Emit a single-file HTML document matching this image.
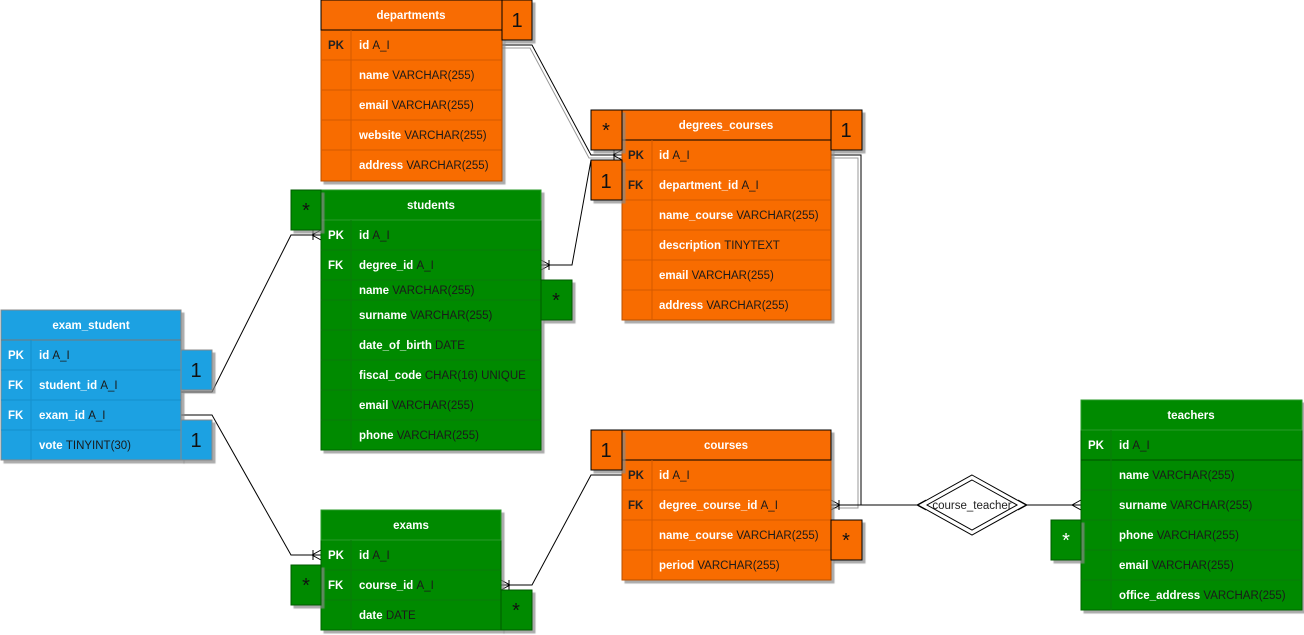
<!DOCTYPE html>
<html><head><meta charset="utf-8"><style>
html,body{margin:0;padding:0;background:#fff;width:1304px;height:635px;overflow:hidden}
svg{display:block}
text{font-family:"Liberation Sans",Arial,sans-serif;font-size:11.5px}
.h{font-weight:bold;fill:#fff;text-anchor:middle}
.k{font-weight:bold}
.f{font-weight:bold;fill:#fff}
.t{font-weight:normal;fill:#1a1a1a}
.c{font-size:20px;text-anchor:middle;fill:#111}
.cw{font-size:20px;text-anchor:middle;fill:#fff}
.ln{stroke:#000;stroke-width:1;fill:none}
</style></head><body>
<svg width="1304" height="635" viewBox="0 0 1304 635" xmlns="http://www.w3.org/2000/svg">
<defs>
<filter id="sh" x="-10%" y="-10%" width="130%" height="130%"><feDropShadow dx="3" dy="3" stdDeviation="0.5" flood-color="#888" flood-opacity="0.7"/></filter>
</defs>

<g class="ln">
<path d="M502 45 H532 L591 155 H622"/>
<path d="M502 48 H530 L589 158 H622" stroke="#999"/>
<path d="M541 265 H572 L591 160 H622"/>
<path d="M181 392 H212 L291 235 H321"/>
<path d="M181 415 H212 L291 555 H321"/>
<path d="M501 585 H532 L591 475 H622"/>
<path d="M831 155 H861 V505 H831"/>
<path d="M831 158 H858 V508 H831" stroke="#999"/>
<path d="M831 505 H918"/>
<path d="M1026 505 H1081"/>
<path d="M622 150 L613 155 L622 160 M614 150 V160"/>
<path d="M541 260 L550 265 L541 270 M549 260 V270"/>
<path d="M321 230 L312 235 L321 240 M313 230 V240"/>
<path d="M321 550 L312 555 L321 560 M313 550 V560"/>
<path d="M501 580 L510 585 L501 590 M509 580 V590"/>
<path d="M831 500 L840 505 L831 510 M839 500 V510"/>
<path d="M1081 500 L1072 505 L1081 510"/>
<path d="M926 500 L917 505 L926 510"/>
<path d="M1018 500 L1027 505 L1018 510"/>
</g>
<polygon points="972,475 1026,505 972,535 918,505" fill="#fff" stroke="#000"/>
<polygon points="972,480 1017,505 972,530 927,505" fill="none" stroke="#000"/>
<text x="972" y="509" text-anchor="middle" fill="#222">course_teacher</text>

<!-- departments -->
<g filter="url(#sh)"><rect x="321" y="0" width="181" height="181" fill="#f86c03" stroke="#b84f00"/></g>
<rect x="321" y="0" width="181" height="30" fill="#f86c03" stroke="#000"/>
<g stroke="#d45a00"><line x1="321" y1="60" x2="502" y2="60"/><line x1="321" y1="90" x2="502" y2="90"/><line x1="321" y1="120" x2="502" y2="120"/><line x1="321" y1="150" x2="502" y2="150"/><line x1="351" y1="30" x2="351" y2="181"/></g>
<text class="h" x="411" y="19">departments</text>
<text class="k" x="328" y="49" fill="#222">PK</text>
<text class="f" x="359" y="49">id <tspan class="t">A_I</tspan></text>
<text class="f" x="359" y="79">name <tspan class="t">VARCHAR(255)</tspan></text>
<text class="f" x="359" y="109">email <tspan class="t">VARCHAR(255)</tspan></text>
<text class="f" x="359" y="139">website <tspan class="t">VARCHAR(255)</tspan></text>
<text class="f" x="359" y="169">address <tspan class="t">VARCHAR(255)</tspan></text>
<g filter="url(#sh)"><rect x="502" y="0" width="30" height="40" fill="#f86c03" stroke="#000"/></g>
<text class="c" x="517" y="27">1</text>

<!-- degrees_courses -->
<g filter="url(#sh)"><rect x="622" y="110" width="209" height="210" fill="#f86c03" stroke="#b84f00"/></g>
<rect x="622" y="110" width="209" height="30" fill="#f86c03" stroke="#000"/>
<g stroke="#d45a00"><line x1="622" y1="170" x2="831" y2="170"/><line x1="622" y1="200" x2="831" y2="200"/><line x1="622" y1="230" x2="831" y2="230"/><line x1="622" y1="260" x2="831" y2="260"/><line x1="622" y1="290" x2="831" y2="290"/><line x1="652" y1="140" x2="652" y2="320"/></g>
<text class="h" x="726" y="129">degrees_courses</text>
<text class="k" x="628" y="159" fill="#222">PK</text>
<text class="k" x="628" y="189" fill="#222">FK</text>
<text class="f" x="659" y="159">id <tspan class="t">A_I</tspan></text>
<text class="f" x="659" y="189">department_id <tspan class="t">A_I</tspan></text>
<text class="f" x="659" y="219">name_course <tspan class="t">VARCHAR(255)</tspan></text>
<text class="f" x="659" y="249">description <tspan class="t">TINYTEXT</tspan></text>
<text class="f" x="659" y="279">email <tspan class="t">VARCHAR(255)</tspan></text>
<text class="f" x="659" y="309">address <tspan class="t">VARCHAR(255)</tspan></text>
<g filter="url(#sh)"><rect x="591" y="110" width="31" height="40" fill="#f86c03" stroke="#000"/>
<rect x="831" y="110" width="31" height="40" fill="#f86c03" stroke="#000"/>
<rect x="591" y="160" width="31" height="40" fill="#f86c03" stroke="#000"/></g>
<text class="c" x="606" y="137">*</text>
<text class="c" x="846" y="137">1</text>
<text class="c" x="606" y="188">1</text>

<!-- students -->
<g filter="url(#sh)"><rect x="321" y="190" width="220" height="260" fill="#008a00" stroke="#006600"/></g>
<rect x="321" y="190" width="220" height="30" fill="#008a00" stroke="#2a9a2a"/>
<g stroke="#0a7a0a"><line x1="321" y1="250" x2="541" y2="250"/><line x1="321" y1="280" x2="541" y2="280"/><line x1="321" y1="300" x2="541" y2="300"/><line x1="321" y1="330" x2="541" y2="330"/><line x1="321" y1="360" x2="541" y2="360"/><line x1="321" y1="390" x2="541" y2="390"/><line x1="321" y1="420" x2="541" y2="420"/><line x1="351" y1="220" x2="351" y2="450"/></g>
<text class="h" x="431" y="209">students</text>
<text class="k" x="328" y="239" fill="#fff">PK</text>
<text class="k" x="328" y="269" fill="#fff">FK</text>
<text class="f" x="359" y="239">id <tspan class="t">A_I</tspan></text>
<text class="f" x="359" y="269">degree_id <tspan class="t">A_I</tspan></text>
<text class="f" x="359" y="294">name <tspan class="t">VARCHAR(255)</tspan></text>
<text class="f" x="359" y="319">surname <tspan class="t">VARCHAR(255)</tspan></text>
<text class="f" x="359" y="349">date_of_birth <tspan class="t">DATE</tspan></text>
<text class="f" x="359" y="379">fiscal_code  <tspan class="t">CHAR(16) UNIQUE</tspan></text>
<text class="f" x="359" y="409">email <tspan class="t">VARCHAR(255)</tspan></text>
<text class="f" x="359" y="439">phone <tspan class="t">VARCHAR(255)</tspan></text>
<g filter="url(#sh)"><rect x="291" y="190" width="30" height="40" fill="#008a00" stroke="#005a00"/>
<rect x="541" y="280" width="31" height="40" fill="#008a00" stroke="#005a00"/></g>
<text class="c" x="306" y="217">*</text>
<text class="c" x="556" y="307">*</text>

<!-- exam_student -->
<g filter="url(#sh)"><rect x="1" y="310" width="180" height="150" fill="#1ba1e2" stroke="#888"/></g>
<g stroke="#1590cc"><line x1="1" y1="340" x2="181" y2="340" stroke="#777"/><line x1="1" y1="370" x2="181" y2="370"/><line x1="1" y1="400" x2="181" y2="400"/><line x1="1" y1="430" x2="181" y2="430"/><line x1="31" y1="340" x2="31" y2="460"/></g>
<text class="h" x="91" y="329">exam_student</text>
<text class="k" x="8" y="359" fill="#fff">PK</text>
<text class="k" x="8" y="389" fill="#fff">FK</text>
<text class="k" x="8" y="419" fill="#fff">FK</text>
<text class="f" x="39" y="359">id <tspan class="t">A_I</tspan></text>
<text class="f" x="39" y="389">student_id <tspan class="t">A_I</tspan></text>
<text class="f" x="39" y="419">exam_id <tspan class="t">A_I</tspan></text>
<text class="f" x="39" y="449">vote <tspan class="t">TINYINT(30)</tspan></text>
<g filter="url(#sh)"><rect x="181" y="350" width="31" height="40" fill="#1ba1e2" stroke="#888"/>
<rect x="181" y="420" width="31" height="40" fill="#1ba1e2" stroke="#888"/></g>
<text class="c" x="196" y="377">1</text>
<text class="c" x="196" y="447">1</text>

<!-- exams -->
<g filter="url(#sh)"><rect x="321" y="510" width="180" height="120" fill="#008a00" stroke="#006600"/></g>
<rect x="321" y="510" width="180" height="30" fill="#008a00" stroke="#2a9a2a"/>
<g stroke="#0a7a0a"><line x1="321" y1="570" x2="501" y2="570"/><line x1="321" y1="600" x2="501" y2="600"/><line x1="351" y1="540" x2="351" y2="630"/></g>
<text class="h" x="411" y="529">exams</text>
<text class="k" x="328" y="559" fill="#fff">PK</text>
<text class="k" x="328" y="589" fill="#fff">FK</text>
<text class="f" x="359" y="559">id <tspan class="t">A_I</tspan></text>
<text class="f" x="359" y="589">course_id <tspan class="t">A_I</tspan></text>
<text class="f" x="359" y="619">date <tspan class="t">DATE</tspan></text>
<g filter="url(#sh)"><rect x="291" y="565" width="30" height="40" fill="#008a00" stroke="#005a00"/>
<rect x="501" y="590" width="31" height="40" fill="#008a00" stroke="#005a00"/></g>
<text class="c" x="306" y="592">*</text>
<text class="c" x="516" y="617">*</text>

<!-- courses -->
<g filter="url(#sh)"><rect x="622" y="430" width="209" height="150" fill="#f86c03" stroke="#b84f00"/></g>
<rect x="622" y="430" width="209" height="30" fill="#f86c03" stroke="#000"/>
<g stroke="#d45a00"><line x1="622" y1="490" x2="831" y2="490"/><line x1="622" y1="520" x2="831" y2="520"/><line x1="622" y1="550" x2="831" y2="550"/><line x1="652" y1="460" x2="652" y2="580"/></g>
<text class="h" x="726" y="449">courses</text>
<text class="k" x="628" y="479" fill="#222">PK</text>
<text class="k" x="628" y="509" fill="#222">FK</text>
<text class="f" x="659" y="479">id <tspan class="t">A_I</tspan></text>
<text class="f" x="659" y="509">degree_course_id <tspan class="t">A_I</tspan></text>
<text class="f" x="659" y="539">name_course <tspan class="t">VARCHAR(255)</tspan></text>
<text class="f" x="659" y="569">period <tspan class="t">VARCHAR(255)</tspan></text>
<g filter="url(#sh)"><rect x="591" y="430" width="31" height="40" fill="#f86c03" stroke="#000"/>
<rect x="831" y="520" width="31" height="40" fill="#f86c03" stroke="#000"/></g>
<text class="c" x="606" y="457">1</text>
<text class="c" x="846" y="547">*</text>

<!-- teachers -->
<g filter="url(#sh)"><rect x="1081" y="400" width="221" height="210" fill="#008a00" stroke="#006600"/></g>
<rect x="1081" y="400" width="221" height="30" fill="#008a00" stroke="#2a9a2a"/>
<g stroke="#0a7a0a"><line x1="1081" y1="460" x2="1302" y2="460" stroke="#005000"/><line x1="1081" y1="490" x2="1302" y2="490"/><line x1="1081" y1="520" x2="1302" y2="520"/><line x1="1081" y1="550" x2="1302" y2="550"/><line x1="1081" y1="580" x2="1302" y2="580"/><line x1="1111" y1="430" x2="1111" y2="610"/></g>
<text class="h" x="1191" y="419">teachers</text>
<text class="k" x="1088" y="449" fill="#fff">PK</text>
<text class="f" x="1119" y="449">id <tspan class="t">A_I</tspan></text>
<text class="f" x="1119" y="479">name <tspan class="t">VARCHAR(255)</tspan></text>
<text class="f" x="1119" y="509">surname <tspan class="t">VARCHAR(255)</tspan></text>
<text class="f" x="1119" y="539">phone <tspan class="t">VARCHAR(255)</tspan></text>
<text class="f" x="1119" y="569">email <tspan class="t">VARCHAR(255)</tspan></text>
<text class="f" x="1119" y="599">office_address <tspan class="t">VARCHAR(255)</tspan></text>
<g filter="url(#sh)"><rect x="1051" y="520" width="30" height="40" fill="#008a00" stroke="#005a00"/></g>
<text class="cw" x="1066" y="547">*</text>
</svg>
</body></html>
